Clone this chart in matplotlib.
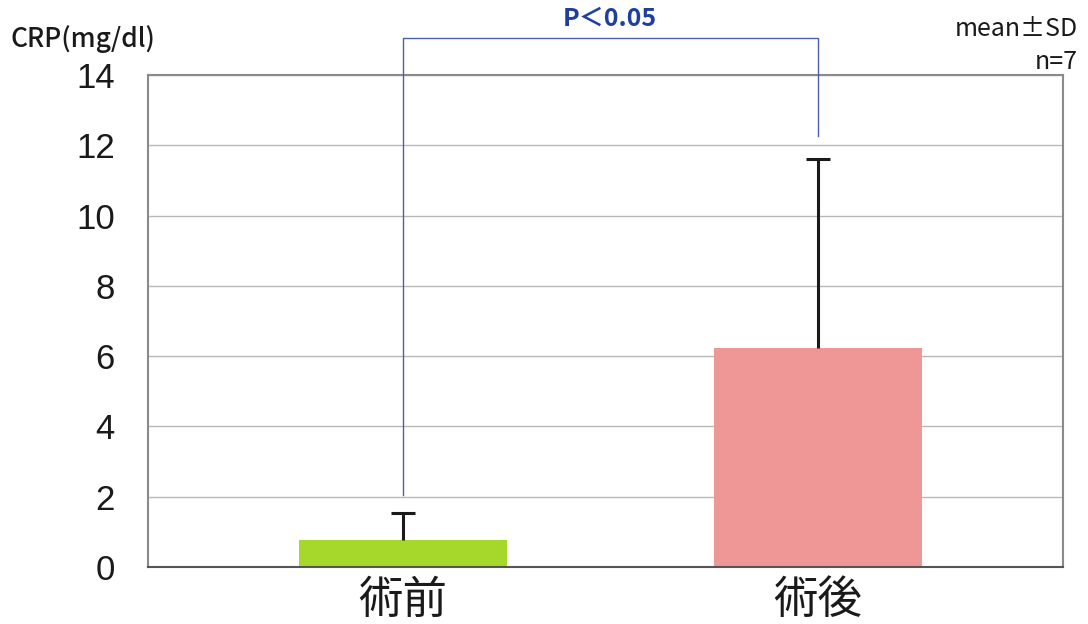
import matplotlib
matplotlib.use("Agg")
import matplotlib.pyplot as plt

plt.rcParams['font.family'] = ['Noto Sans CJK JP', 'DejaVu Sans']

categories = ["術前", "術後"]
means = [0.77, 6.23]
sds = [0.77, 5.38]
bar_colors = ["#a6d82c", "#ef9696"]
yticks = [0, 2, 4, 6, 8, 10, 12, 14]
bracket_left = 2.05
bracket_right = 12.27
bracket_top = 15.05

fig = plt.figure(figsize=(10.88, 6.24), dpi=100)
ax = fig.add_axes([0.136, 0.0913, 0.841, 0.7885])

x = list(range(len(categories)))
tops = [m + s for m, s in zip(means, sds)]
ax.bar(x, means, width=0.5, color=bar_colors, zorder=2)
# upper error only, cap on top
ax.vlines(x, means, tops, color='#1a1a1a', linewidth=2.2, zorder=3)
ax.plot(x, tops, linestyle='none', marker='_', markersize=17,
        markeredgewidth=2.2, color='#1a1a1a', zorder=3)

ax.set_xlim(-0.615, 1.59)
ax.set_ylim(0, 14)
ax.set_yticks(yticks)
ax.set_xticks(x)
ax.set_xticklabels(categories, fontsize=32)
ax.tick_params(axis='y', length=0, pad=24)
for lab in ax.get_yticklabels():
    lab.set_fontfamily('Liberation Sans')
    lab.set_fontsize(25)
    lab.set_color('#1a1a1a')
ax.tick_params(axis='x', length=0, pad=7, labelcolor='#1a1a1a')
ax.yaxis.grid(True, color='#b8b8b8', linewidth=1)
ax.set_axisbelow(True)
for side in ['top', 'right', 'left']:
    ax.spines[side].set_color('#8a8a8a')
    ax.spines[side].set_linewidth(1.5)
ax.spines['bottom'].set_color('#555555')
ax.spines['bottom'].set_linewidth(1.5)

# significance bracket
ax.plot([0, 0, 1, 1], [bracket_left, bracket_top, bracket_top, bracket_right],
        color='#4a5fb0', linewidth=1, clip_on=False, zorder=4)
fig.text(610 / 1088, 1 - 19 / 624, "P＜0.05", color='#1f3f9f', fontsize=18,
         fontweight='bold', ha='center', va='center')

fig.text(10 / 1088, 1 - 39 / 624, "CRP(mg/dl)", fontsize=19, ha='left',
         va='center', color='#1a1a1a', fontweight='medium')
fig.text(1078 / 1088, 1 - 29 / 624, "mean±SD", fontsize=18, ha='right',
         va='center', color='#1a1a1a')
fig.text(1078 / 1088, 1 - 62 / 624, "n=7", fontsize=18, ha='right',
         va='center', color='#1a1a1a')

fig.savefig("out.png", dpi=100)
